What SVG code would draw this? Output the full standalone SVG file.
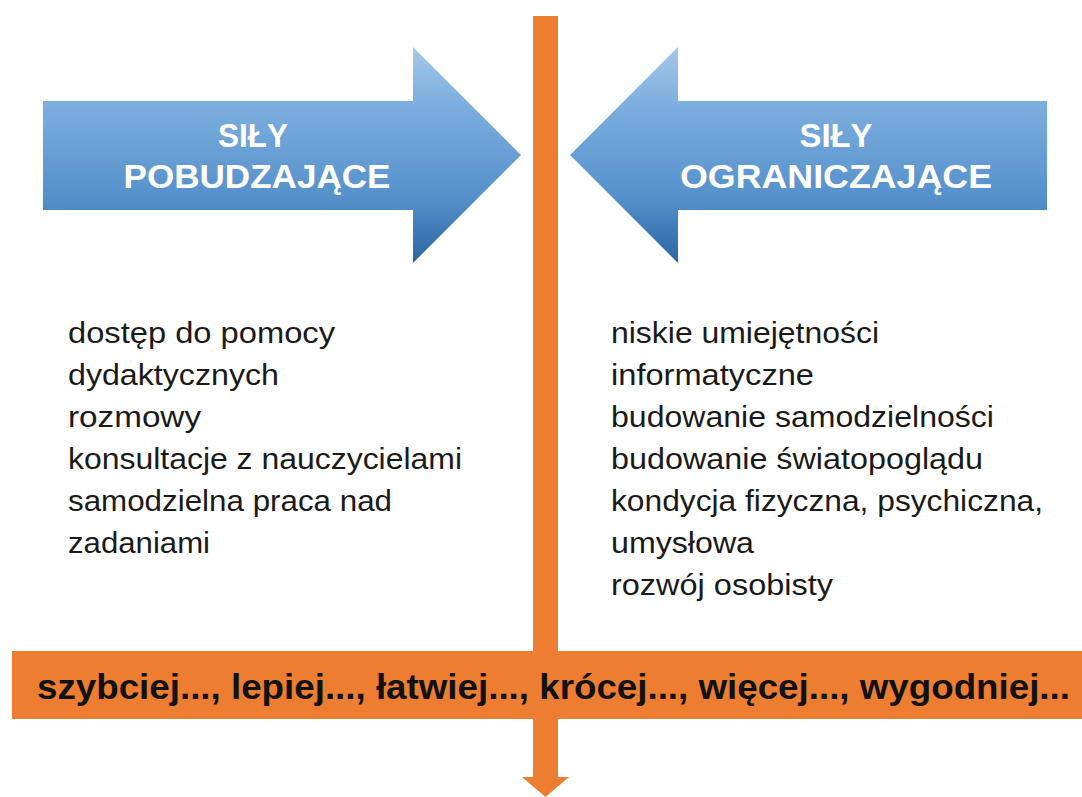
<svg xmlns="http://www.w3.org/2000/svg" width="1082" height="797" viewBox="0 0 1082 797">
  <defs>
    <linearGradient id="blueGrad" gradientUnits="userSpaceOnUse" x1="0" y1="47" x2="0" y2="263">
      <stop offset="0" stop-color="#A6C8E9"/>
      <stop offset="0.25" stop-color="#7EB0DF"/>
      <stop offset="0.7" stop-color="#5590CB"/>
      <stop offset="1" stop-color="#2A64A2"/>
    </linearGradient>
    <style>
      .arrow { fill: url(#blueGrad); }
      .title { font-family: "Liberation Sans", Arial, sans-serif; font-weight: bold; font-size: 33px; fill: #FFFFFF; text-anchor: middle; }
      .item { font-family: "Liberation Sans", Arial, sans-serif; font-size: 29px; fill: #1A1A1A; }
      .orange { fill: #ED7D31; }
      .band { font-family: "Liberation Sans", Arial, sans-serif; font-weight: bold; font-size: 35px; fill: #111111; }
    </style>
  </defs>
  <rect width="1082" height="797" fill="#FFFFFF"/>

  <g id="connectors">
    <rect class="orange" x="533" y="16" width="25" height="762"/>
    <polygon class="orange" points="522,777 569,777 545.5,797"/>
  </g>

  <g id="driving-forces">
    <polygon class="arrow" points="43,101 413,101 413,47 521,155 413,263 413,210 43,210"/>
    <text class="title" x="253" y="147" textLength="70" lengthAdjust="spacingAndGlyphs">SIŁY</text>
    <text class="title" x="257" y="188" textLength="267" lengthAdjust="spacingAndGlyphs">POBUDZAJĄCE</text>
  </g>

  <g id="restraining-forces">
    <polygon class="arrow" points="1047,101 678,101 678,47 570,155 678,263 678,210 1047,210"/>
    <text class="title" x="836" y="147" textLength="73" lengthAdjust="spacingAndGlyphs">SIŁY</text>
    <text class="title" x="836" y="188" textLength="312" lengthAdjust="spacingAndGlyphs">OGRANICZAJĄCE</text>
  </g>

  <g id="driving-list">
    <text class="item" x="68" y="343" textLength="267" lengthAdjust="spacingAndGlyphs">dostęp do pomocy</text>
    <text class="item" x="68" y="385" textLength="211" lengthAdjust="spacingAndGlyphs">dydaktycznych</text>
    <text class="item" x="68" y="427" textLength="133" lengthAdjust="spacingAndGlyphs">rozmowy</text>
    <text class="item" x="68" y="469" textLength="394" lengthAdjust="spacingAndGlyphs">konsultacje z nauczycielami</text>
    <text class="item" x="68" y="511" textLength="324" lengthAdjust="spacingAndGlyphs">samodzielna praca nad</text>
    <text class="item" x="68" y="553" textLength="142" lengthAdjust="spacingAndGlyphs">zadaniami</text>
  </g>

  <g id="restraining-list">
    <text class="item" x="611" y="343" textLength="268" lengthAdjust="spacingAndGlyphs">niskie umiejętności</text>
    <text class="item" x="611" y="385" textLength="203" lengthAdjust="spacingAndGlyphs">informatyczne</text>
    <text class="item" x="611" y="427" textLength="383" lengthAdjust="spacingAndGlyphs">budowanie samodzielności</text>
    <text class="item" x="611" y="469" textLength="372" lengthAdjust="spacingAndGlyphs">budowanie światopoglądu</text>
    <text class="item" x="611" y="511" textLength="432" lengthAdjust="spacingAndGlyphs">kondycja fizyczna, psychiczna,</text>
    <text class="item" x="611" y="553" textLength="143" lengthAdjust="spacingAndGlyphs">umysłowa</text>
    <text class="item" x="611" y="595" textLength="222" lengthAdjust="spacingAndGlyphs">rozwój osobisty</text>
  </g>

  <g id="outcome-band">
    <rect class="orange" x="12" y="651" width="1070" height="68"/>
    <text class="band" x="37" y="699" textLength="1033" lengthAdjust="spacingAndGlyphs">szybciej..., lepiej..., łatwiej..., krócej..., więcej..., wygodniej...</text>
  </g>
</svg>
